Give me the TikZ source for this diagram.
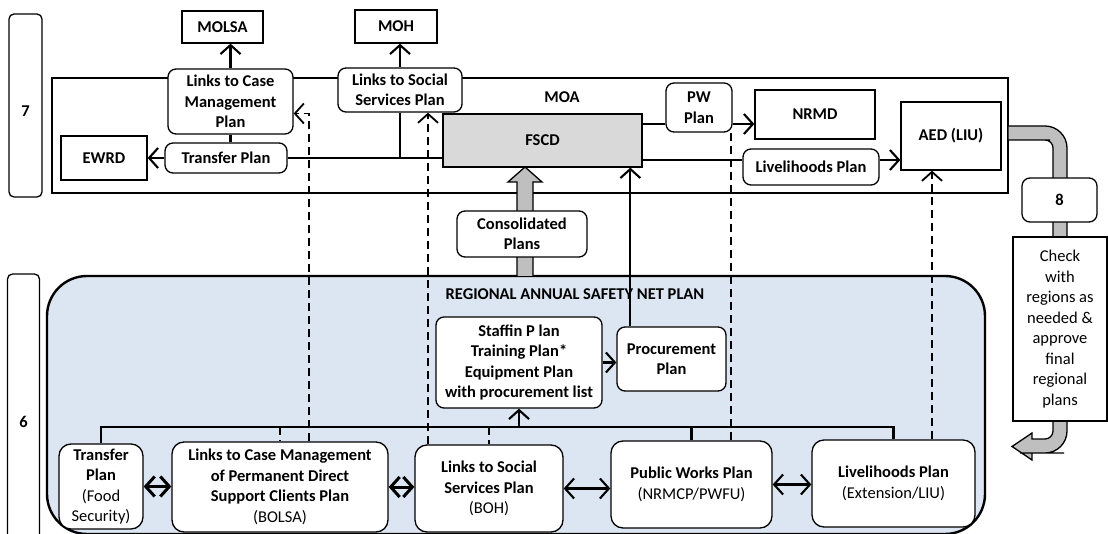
\documentclass[tikz,border=0pt]{standalone}
\usepackage{fontspec}
\setmainfont{Carlito}
\usetikzlibrary{arrows.meta, positioning, calc}
\definecolor{regblue}{RGB}{220,230,242}
\definecolor{boxgray}{RGB}{217,217,217}
\definecolor{bandgray}{RGB}{191,191,191}
\newcommand{\lblsize}{\fontsize{16.5}{20.5}\selectfont}
\tikzset{
  wh/.style 2 args={minimum width=#1, minimum height=#2},
  bx/.style={draw, fill=white, line width=1.3pt, align=center,
             inner sep=1pt, font=\lblsize\bfseries},
  rbx/.style={bx, rounded corners=8pt},
  bar/.style={draw, rounded corners=5pt, line width=1.3pt, inner sep=0pt,
              font=\lblsize\bfseries},
  lbl/.style={font=\lblsize\bfseries},
  ln/.style={line width=2.1pt},
  dln/.style={line width=1.8pt, dash pattern=on 8pt off 5pt},
  arr/.style={ln, -{Straight Barb[length=9pt, width=20pt]}},
  darr/.style={dln, -{Straight Barb[length=9pt, width=20pt]}},
  dbl/.style={line width=2.1pt,
              {Straight Barb[length=9pt, width=20pt]}-{Straight Barb[length=9pt, width=20pt]}},
  dblB/.style={line width=3pt,
              {Straight Barb[length=9pt, width=20pt]}-{Straight Barb[length=9pt, width=20pt]}},
  band/.style={draw, line width=1.3pt, fill=bandgray},
}
\begin{document}
\begin{tikzpicture}[x=1pt, y=-1pt]
  \useasboundingbox (0,0) rectangle (1108,534);

  % ── LEVEL 7 ─────────────────────────────────────────────
  \draw[line width=1.3pt] (52,78) rectangle (1008,193);
  % ── LEVEL 6 region ──────────────────────────────────────
  \draw[line width=2.4pt, fill=regblue, rounded corners=40pt] (47,276) rectangle (985,534);

  % gray bent arrow (step 8)
  \draw[band] (1008,126) [rounded corners=22pt] -- (1067,126) -- (1067,453) -- (1042,453)
     [sharp corners] -- (1032,453) -- (1032,460) -- (1012,446.5) -- (1032,433) -- (1032,439)
     -- (1042,439) [rounded corners=8pt] -- (1053,439) -- (1053,140) -- (1042,140)
     [sharp corners] -- (1008,140) -- cycle;
  % block arrow up to FSCD
  \draw[band] (517,276) -- (517,182) -- (508,182) -- (525,167) -- (542,182) -- (533,182)
     -- (533,276);

  % side bars
  \node[bar, wh={33pt}{183pt}] (bar7) at (25.5,105.5) {\raisebox{-11pt}[0pt][0pt]{7}};
  \node[bar, wh={32pt}{296pt}] (bar6) at (23.5,422) {6};

  % top row
  \node[bx, wh={81pt}{32pt}]  (molsa) at (222.5,27) {MOLSA};
  \node[bx, wh={82pt}{33pt}]  (moh)   at (396,26.5) {MOH};
  \node[rbx, wh={125pt}{65pt}] (linkscm) at (230.5,101.5) {Links to Case\\Management\\Plan};
  \node[rbx, wh={124pt}{44pt}] (linkssoc) at (400,90) {Links to Social\\Services Plan};
  \node[rbx, wh={122pt}{30pt}] (transfer) at (226,158) {Transfer Plan};
  \node[bx, wh={86pt}{44pt}]  (ewrd)  at (104,158) {EWRD};
  \node[lbl] (moa) at (562,97) {MOA};
  \node[bx, fill=boxgray, wh={199pt}{53pt}] (fscd) at (542.5,140.5) {FSCD};
  \node[rbx, wh={66pt}{49pt}]  (pwplan) at (699,107.5) {PW\\Plan};
  \node[bx, wh={120pt}{49pt}] (nrmd)  at (815,114.5) {NRMD};
  \node[rbx, wh={136pt}{36pt}] (livtop) at (811,167) {Livelihoods Plan};
  \node[bx, wh={100pt}{68pt}] (aed)   at (951,136) {AED (LIU)};

  % step 8
  \node[rbx, wh={75pt}{44pt}] (eight) at (1059.5,200) {8};
  \node[bx, font=\lblsize\mdseries, wh={94pt}{184pt}] (check) at (1060,329)
     {Check\\with\\regions as\\needed \&\\approve\\final\\regional\\plans};

  \node[rbx, wh={130pt}{46pt}] (consol) at (522,234) {Consolidated\\Plans};

  % regional plan
  \node[lbl] (rtitle) at (575,294) {REGIONAL ANNUAL SAFETY NET PLAN};
  \node[rbx, wh={166pt}{91pt}] (staff) at (519,362.5)
     {Staffin P lan\\Training Plan*\\Equipment Plan\\with procurement list};
  \node[rbx, wh={109pt}{64pt}] (procure) at (671.5,359) {Procurement\\Plan};

  % bottom row
  \node[rbx, rounded corners=12pt, wh={84pt}{85pt}]  (tfood) at (101,486.5)
     {Transfer\\Plan\\\mdseries (Food\\\mdseries Security)};
  \node[rbx, rounded corners=12pt, wh={216pt}{90pt}] (bolsa) at (280,487)
     {Links to Case Management\\of Permanent Direct\\Support Clients Plan\\\mdseries (BOLSA)};
  \node[rbx, rounded corners=12pt, wh={148pt}{87pt}] (linksbot) at (489,488.5)
     {Links to Social\\Services Plan\\\mdseries (BOH)};
  \node[rbx, rounded corners=12pt, wh={161pt}{87pt}] (pubw) at (691.5,484.5)
     {Public Works Plan\\\mdseries (NRMCP/PWFU)};
  \node[rbx, rounded corners=12pt, wh={163pt}{87pt}] (livbot) at (893.5,483.5)
     {Livelihoods Plan\\\mdseries (Extension/LIU)};

  % ── connectors, level 7 ─────────────────────────────────
  \draw[arr] (linkscm.north) -- (linkscm.north |- molsa.south);
  \draw[arr] (linkssoc.north) -- (linkssoc.north |- moh.south);
  \draw[ln] (linkscm.south) -- (linkscm.south |- transfer.north);
  \draw[arr] (transfer.west) -- (ewrd.east);
  \draw[ln] (transfer.east) -- (transfer.east -| fscd.west);
  \draw[ln] (linkssoc.south) -- (linkssoc.south |- transfer.east);
  \coordinate (pwin) at ([yshift=-16.5pt]pwplan.west);
  \draw[ln] (pwin -| fscd.east) -- (pwin);
  \draw[arr] (pwin -| pwplan.east) -- (pwin -| nrmd.west);
  \coordinate (livin) at ([yshift=7pt]livtop.west);
  \draw[ln] (livin -| fscd.east) -- (livin);
  \draw[arr] (livin -| livtop.east) -- (livin -| aed.west);

  % ── connectors, level 6 ─────────────────────────────────
  \coordinate (procup) at ([xshift=14pt]procure.north west);
  \draw[arr] (procup) -- (procup |- fscd.south);
  \draw[arr] (staff.east) -- (staff.east -| procure.west);
  \coordinate (bus) at (0,427);
  \draw[ln] (tfood.north) -- (tfood.north |- bus) -- (livbot.north |- bus) -- (livbot.north);
  \draw[ln] (pubw.north |- bus) -- (pubw.north);
  \draw[arr] (staff.south |- bus) -- (staff.south);
  \draw[dln] (bolsa.north |- bus) -- (bolsa.north);
  \draw[dln] (linksbot.north |- bus) -- (linksbot.north);

  % dashed links up to level 7
  \coordinate (bolup) at ([xshift=29pt]bolsa.north);
  \draw[darr] (bolup) |- ([yshift=-12pt]linkscm.east);
  \coordinate (socup) at ([xshift=-61pt]linksbot.north);
  \draw[darr] (socup) -- (socup |- linkssoc.south);
  \coordinate (pwup) at ([xshift=39.5pt]pubw.north);
  \draw[dln] (pwup) -- (pwup |- pwplan.south);
  \coordinate (livup) at ([xshift=38.5pt]livbot.north);
  \draw[darr] (livup) -- (livup |- aed.south);

  % two-way links between plans
  \draw[dblB] (tfood.east) -- (tfood.east -| bolsa.west);
  \draw[dblB] (bolsa.east) -- (bolsa.east -| linksbot.west);
  \draw[dbl] (linksbot.east) -- (linksbot.east -| pubw.west);
  \draw[dbl] (pubw.east) -- (pubw.east -| livbot.west);
\end{tikzpicture}
\end{document}
